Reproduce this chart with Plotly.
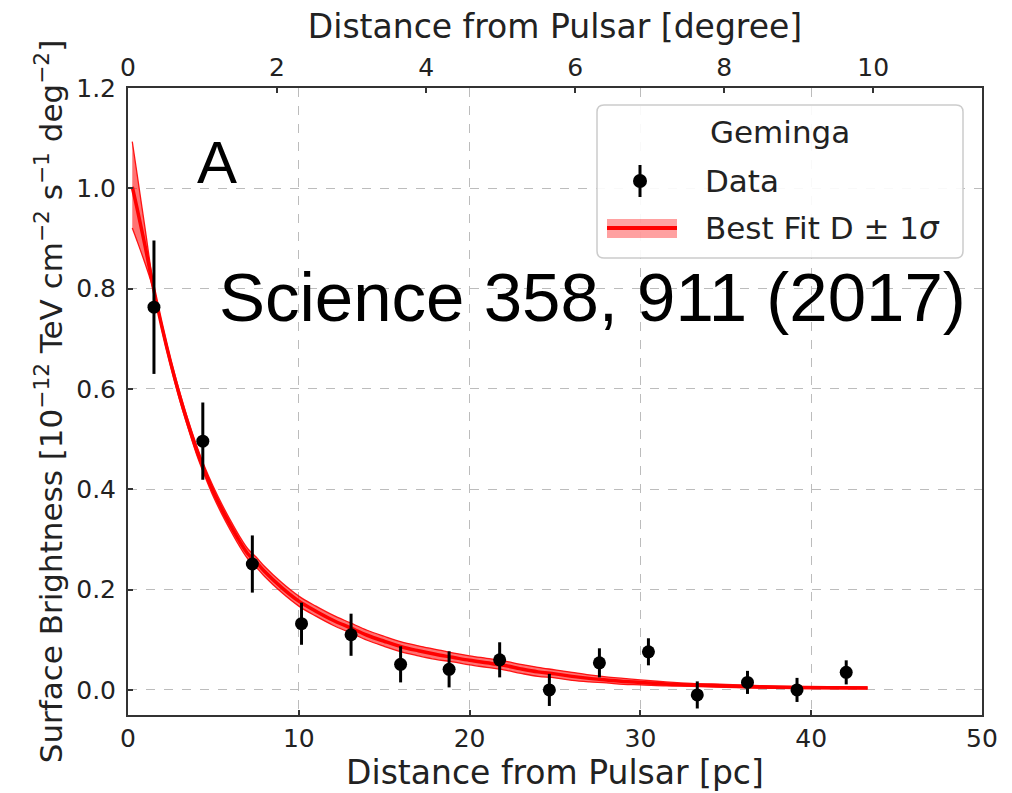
import plotly.graph_objects as go

# Binned surface brightness profile around Geminga
data_x = [1.52, 4.38, 7.28, 10.16, 13.06, 15.96, 18.80, 21.76, 24.67, 27.60, 30.47, 33.33, 36.27, 39.17, 42.05]
data_y = [0.763, 0.496, 0.251, 0.132, 0.110, 0.051, 0.041, 0.060, 0.000, 0.054, 0.076, -0.010, 0.015, 0.000, 0.035]
data_err = [0.133, 0.077, 0.057, 0.042, 0.042, 0.036, 0.036, 0.035, 0.032, 0.029, 0.027, 0.027, 0.023, 0.024, 0.024]

# Best-fit diffusion profile with its 1-sigma envelope
fit_x = [0.25, 0.5, 1.0, 1.5, 2.0, 2.5, 3.0, 3.5, 4.0, 4.5, 5.0, 5.5, 6.0, 6.5, 7.0, 7.5, 8.0, 9.0,
         10.0, 11.0, 12.0, 13.0, 14.0, 15.0, 16.0, 17.0, 18.0, 19.0, 20.0, 21.0, 22.0, 23.0, 24.0,
         25.0, 26.0, 27.0, 28.0, 29.0, 30.0, 31.5, 33.0, 35.0, 37.0, 39.0, 41.0, 43.3]
fit_mid = [1.003, 0.965, 0.885, 0.800, 0.722, 0.652, 0.589, 0.532, 0.480, 0.435, 0.395, 0.360, 0.328,
           0.298, 0.272, 0.255, 0.236, 0.204, 0.177, 0.157, 0.139, 0.124, 0.109, 0.097, 0.086, 0.078,
           0.071, 0.065, 0.059, 0.054, 0.049, 0.042, 0.036, 0.032, 0.027, 0.023, 0.020, 0.017, 0.015,
           0.012, 0.010, 0.008, 0.006, 0.005, 0.0045, 0.004]
fit_upper = [1.093, 1.036, 0.920, 0.806, 0.728, 0.659, 0.597, 0.540, 0.489, 0.444, 0.405, 0.370, 0.338,
             0.308, 0.282, 0.265, 0.246, 0.214, 0.187, 0.167, 0.149, 0.134, 0.119, 0.107, 0.096, 0.088,
             0.081, 0.074, 0.068, 0.063, 0.058, 0.051, 0.045, 0.040, 0.035, 0.030, 0.026, 0.023, 0.020,
             0.016, 0.013, 0.011, 0.0085, 0.007, 0.0065, 0.006]
fit_lower = [0.921, 0.898, 0.850, 0.796, 0.716, 0.645, 0.581, 0.524, 0.471, 0.426, 0.385, 0.350, 0.318,
             0.288, 0.262, 0.245, 0.226, 0.194, 0.167, 0.147, 0.129, 0.114, 0.099, 0.087, 0.076, 0.068,
             0.061, 0.056, 0.050, 0.045, 0.040, 0.033, 0.027, 0.024, 0.019, 0.016, 0.014, 0.011, 0.010,
             0.008, 0.007, 0.005, 0.0035, 0.003, 0.0025, 0.002]

x_ticks_pc = [0, 10, 20, 30, 40, 50]
x_ticks_deg = [0, 2, 4, 6, 8, 10]
y_ticks = [0.0, 0.2, 0.4, 0.6, 0.8, 1.0, 1.2]
PC_PER_DEG = 250.0 * 3.141592653589793 / 180.0  # pulsar distance 250 pc

# plot-area edges in pixels, used to place overlay text and the legend box
L, R, T, B = 128, 982, 88, 715
W, H = 1012, 793


def px(x):
    return (x - L) / (R - L)


def py(y):
    return (B - y) / (B - T)


RED = "#ff0000"
BAND = "rgba(255,20,20,0.6)"
LEG_BAND = "rgba(255,30,30,0.42)"
INK = "#222222"
FONT = "DejaVu Sans"

fig = go.Figure()

fig.add_trace(go.Scatter(
    x=fit_x, y=fit_lower, mode="lines",
    line=dict(color="rgba(255,0,0,0.9)", width=1.3, shape="spline"),
    hoverinfo="skip", showlegend=False))
fig.add_trace(go.Scatter(
    x=fit_x, y=fit_upper, mode="lines", fill="tonexty", fillcolor=BAND,
    line=dict(color="rgba(255,0,0,0.9)", width=1.3, shape="spline"),
    hoverinfo="skip", showlegend=False))
fig.add_trace(go.Scatter(
    x=fit_x, y=fit_mid, mode="lines",
    line=dict(color=RED, width=3.5, shape="spline"),
    name="Best Fit D ± 1σ", showlegend=False))

fig.add_trace(go.Scatter(
    x=data_x, y=data_y, mode="markers",
    marker=dict(color="black", size=13),
    error_y=dict(type="data", array=data_err, color="black", thickness=3, width=0),
    name="Data", showlegend=False))

axis_common = dict(
    showline=True, linecolor="#333333", linewidth=2,
    ticks="inside", ticklen=5, tickwidth=1.5, tickcolor="#333333",
    tickfont=dict(family=FONT, size=25, color=INK),
    zeroline=False,
)

fig.update_layout(
    width=W, height=H,
    margin=dict(l=L, r=W - R, t=T, b=H - B),
    paper_bgcolor="white", plot_bgcolor="white",
    showlegend=False,
    font=dict(family=FONT, color=INK),
    xaxis=dict(
        range=[0, 50], tickvals=x_ticks_pc, mirror=True,
        showgrid=True, gridcolor="#bcbcbc", gridwidth=1, griddash="dash",
        title=dict(text="Distance from Pulsar [pc]", font=dict(family=FONT, size=33, color=INK), standoff=6),
        **axis_common),
    xaxis2=dict(
        overlaying="x", side="top", anchor="y",
        range=[0, 50 / PC_PER_DEG], tickvals=x_ticks_deg, showgrid=False,
        title=dict(text="Distance from Pulsar [degree]", font=dict(family=FONT, size=33, color=INK), standoff=4),
        **axis_common),
    yaxis=dict(
        range=[-0.05, 1.2], tickvals=y_ticks, tickformat=".1f", mirror=True,
        showgrid=True, gridcolor="#bcbcbc", gridwidth=1, griddash="dash",
        ticklabelstandoff=5,
        title=dict(text="Surface Brightness [10<sup>−12</sup> TeV cm<sup>−2</sup> s<sup>−1</sup> deg<sup>−2</sup>]",
                   font=dict(family=FONT, size=31, color=INK), standoff=4),
        **axis_common),
)

# make the top axis render by giving it a hidden trace that spans its range
fig.add_trace(go.Scatter(x=[0, 50 / PC_PER_DEG], y=[None, None], xaxis="x2", yaxis="y",
                         mode="lines", hoverinfo="skip", showlegend=False))

annotations = [
    dict(text="A", x=px(217), y=py(162), xref="paper", yref="paper", xanchor="center", yanchor="middle",
         showarrow=False, font=dict(family="Liberation Sans", size=60, color="black")),
    dict(text="Science 358, 911 (2017)", x=px(592), y=py(297), xref="paper", yref="paper",
         xanchor="center", yanchor="middle", showarrow=False,
         font=dict(family="Liberation Sans", size=69, color="black")),
    dict(text="Geminga", x=px(780), y=py(132), xref="paper", yref="paper", xanchor="center", yanchor="middle",
         showarrow=False, font=dict(family=FONT, size=31, color=INK)),
    dict(text="Data", x=px(703), y=py(181), xref="paper", yref="paper", xanchor="left", yanchor="middle",
         showarrow=False, font=dict(family=FONT, size=31, color=INK)),
    dict(text="Best Fit D ± 1<i>σ</i>", x=px(703), y=py(228), xref="paper", yref="paper", xanchor="left",
         yanchor="middle", showarrow=False, font=dict(family=FONT, size=31, color=INK)),
]
fig.update_layout(annotations=annotations)

# legend frame with rounded corners
x0, x1, y0, y1, r = 597, 963, 105, 258, 7
path = (
    f"M {px(x0 + r)},{py(y0)} L {px(x1 - r)},{py(y0)} Q {px(x1)},{py(y0)} {px(x1)},{py(y0 + r)} "
    f"L {px(x1)},{py(y1 - r)} Q {px(x1)},{py(y1)} {px(x1 - r)},{py(y1)} "
    f"L {px(x0 + r)},{py(y1)} Q {px(x0)},{py(y1)} {px(x0)},{py(y1 - r)} "
    f"L {px(x0)},{py(y0 + r)} Q {px(x0)},{py(y0)} {px(x0 + r)},{py(y0)} Z"
)
shapes = [
    dict(type="path", path=path, xref="paper", yref="paper",
         line=dict(color="#cccccc", width=1.5), fillcolor="rgba(255,255,255,0.9)", layer="above"),
    # data symbol
    dict(type="line", x0=px(640), x1=px(640), y0=py(165), y1=py(197), xref="paper", yref="paper",
         line=dict(color="black", width=3), layer="above"),
    dict(type="circle", x0=px(633), x1=px(647), y0=py(174), y1=py(188), xref="paper", yref="paper",
         line=dict(color="black", width=0), fillcolor="black", layer="above"),
    # fit symbol
    dict(type="rect", x0=px(607), x1=px(677), y0=py(219), y1=py(238), xref="paper", yref="paper",
         line=dict(width=0), fillcolor=LEG_BAND, layer="above"),
    dict(type="line", x0=px(607), x1=px(677), y0=py(228), y1=py(228), xref="paper", yref="paper",
         line=dict(color=RED, width=4), layer="above"),
]
fig.update_layout(shapes=shapes)

fig.write_html("out.html")
